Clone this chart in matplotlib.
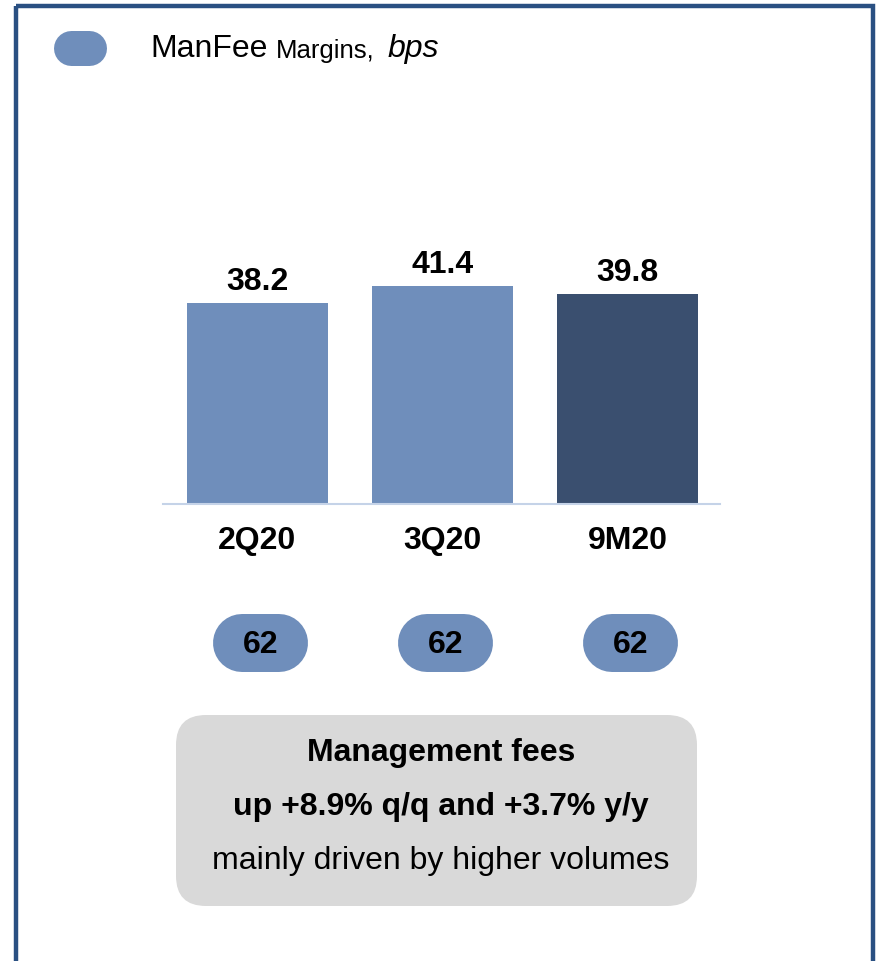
import matplotlib
matplotlib.use("Agg")
import matplotlib.pyplot as plt
from matplotlib.patches import FancyBboxPatch, Rectangle

plt.rcParams['font.family'] = ['Liberation Sans', 'DejaVu Sans']

# Data
categories = ["2Q20", "3Q20", "9M20"]
margins = [38.2, 41.4, 39.8]
pill_values = [62, 62, 62]
bar_colors = ["#6F8EBB", "#6F8EBB", "#3A4F6F"]
note_lines = ["Management fees", "up +8.9% q/q and +3.7% y/y", "mainly driven by higher volumes"]

W, H = 877, 961
FS = 23
fig = plt.figure(figsize=(W / 100, H / 100), dpi=100)

# background overlay in pixel coordinates
bg = fig.add_axes([0, 0, 1, 1])
bg.set_xlim(0, W)
bg.set_ylim(H, 0)
bg.axis("off")

PX2PT = 72 / 100.0


def stadium(cx, cy, w, h, color):
    bg.plot([cx - (w - h) / 2, cx + (w - h) / 2], [cy, cy], color=color,
            linewidth=h * PX2PT, solid_capstyle="round", zorder=2)


# outer border
bg.add_patch(Rectangle((16, 6), 857, 1000, fill=False, edgecolor="#2A5082", linewidth=3.2))

# legend pill
stadium(79.5, 47.5, 53, 35, "#6F8EBB")
t1 = bg.text(150, 49, "ManFee", fontsize=FS, va="center", ha="left", color="black")
fig.canvas.draw()
r = fig.canvas.get_renderer()
bb = t1.get_window_extent(r)
x2 = bb.x1 + 8
t2 = bg.text(x2, 51, "Margins,", fontsize=18.5, va="center", ha="left", color="black")
bb2 = t2.get_window_extent(r)
x3 = bb2.x1 + 13
bg.text(x3, 49, "bps", fontsize=FS, va="center", ha="left", style="italic", color="black")

# bar chart axes
left_px, right_px = 163, 720
base_px, top_px = 504, 200
ax = fig.add_axes([left_px / W, (H - base_px) / H, (right_px - left_px) / W, (base_px - top_px) / H])
x = list(range(len(categories)))
bars = ax.bar(x, margins, width=0.762, color=bar_colors)
ax.set_xlim(-0.51, 2.5)
ax.set_ylim(0, (base_px - top_px) / 5.27)
for s in ["top", "right", "left"]:
    ax.spines[s].set_visible(False)
ax.spines["bottom"].set_color("#C5D3E8")
ax.spines["bottom"].set_linewidth(1.5)
ax.set_yticks([])
ax.set_xticks(x)
ax.set_xticklabels(categories, fontsize=FS, fontweight="bold")
ax.tick_params(axis="x", length=0, pad=16)
for xi, v in zip(x, margins):
    ax.annotate(f"{v:.1f}", (xi, v), xytext=(0, 21), textcoords="offset pixels",
                ha="center", va="center", fontsize=FS, fontweight="bold")

# pills under categories (positions from data axis)
for xi, v in zip(x, pill_values):
    px_disp = ax.transData.transform((xi, 0))[0]
    cx = px_disp + 3
    stadium(cx, 643, 95, 58, "#6F8EBB")
    bg.text(cx, 645, str(v), fontsize=FS, fontweight="bold", ha="center", va="center", zorder=3)

# note box
bg.add_patch(FancyBboxPatch((176, 715), 521, 191, boxstyle="round,pad=0,rounding_size=30",
                            facecolor="#D9D9D9", edgecolor="none"))
bg.text(441, 753, note_lines[0], fontsize=FS, fontweight="bold", ha="center", va="center")
bg.text(441, 807, note_lines[1], fontsize=FS, fontweight="bold", ha="center", va="center")
bg.text(441, 861, note_lines[2], fontsize=FS, ha="center", va="center")

fig.savefig("out.png", dpi=100)
